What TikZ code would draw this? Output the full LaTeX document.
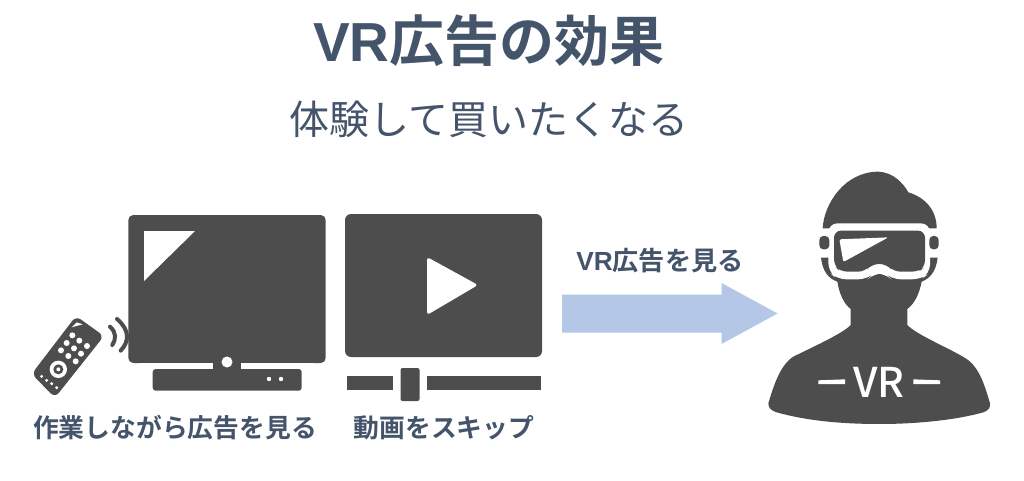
\documentclass[tikz,border=0pt]{standalone}
\usepackage{fontspec}
\setmainfont{Liberation Sans}
\newfontfamily\cjkreg{Noto Sans CJK JP}
\newfontfamily\cjkbold{Noto Sans CJK JP Bold}
\newfontfamily\cjkmed{Noto Sans CJK JP Medium}
\newfontfamily\latbold{Liberation Sans Bold}
\definecolor{inktext}{HTML}{44546A}
\definecolor{icon}{HTML}{4D4D4D}
\definecolor{arrowblue}{HTML}{B4C7E7}
\tikzset{
  txt/.style={inner sep=0pt,outer sep=0pt,text=inktext,anchor=center},
  iconfill/.style={fill=icon,draw=none},
  hole/.style={fill=white,draw=none},
  wave/.style={draw=icon,line width=4pt,line cap=round},
}
\begin{document}
\begin{tikzpicture}[x=1pt,y=-1pt]
\useasboundingbox (0,0) rectangle (1024,481);
\fill[white] (0,0) rectangle (1024,481);
% titles
\node[txt] (title) at (489,41) {\fontsize{55}{56}\selectfont{\latbold VR}{\cjkbold 広告の効果}};
\node[txt] (subtitle) at (489,119) {\fontsize{40}{41}\cjkreg 体験して買いたくなる};
% TV
\path[iconfill,rounded corners=5pt] (128.3,215) rectangle (325.7,363);
\fill[hole] (144,231) -- (195,231) -- (144,281) -- cycle;
\path[iconfill,rounded corners=3pt] (152.7,369) rectangle (301.7,390.7);
\fill[white] (140,363) rectangle (314,369);
\path[iconfill] (213,360) rectangle (241,371);
\path[iconfill] (227,362) circle (9);
\fill[hole] (227,362) circle (5.5);
\fill[hole] (269,379) circle (2.2);
\fill[hole] (281,379) circle (2.2);
% remote
\begin{scope}[shift={(20,310)},scale=1/3]
\path[iconfill,rounded corners=6pt] (168,18) -- (252,78) -- (105,263) -- (35,192) -- cycle;
\fill[hole] (155,52) -- (170,37) -- (188,43) -- cycle;
\foreach \bx/\by in {157/76,140/99,178/92,201/108,123/121,162/115,183/131,145/138,167/154}
  \fill[hole] (\bx,\by) circle (9);
\foreach \bx/\by in {65/199,80/211,95/221,110/233}
  \fill[hole] (\bx,\by) circle (5);
\fill[hole] (115,178) circle (26);
\path[iconfill] (115,178) circle (15);
\fill[hole] (115,178) circle (6);
\draw[wave] (270,50) .. controls (290,68) and (288,88) .. (277,105);
\draw[wave] (291,27) .. controls (330,60) and (328,95) .. (302,122);
\end{scope}
% video player
\path[iconfill,rounded corners=6pt] (345,214) rectangle (542,357);
\fill[hole,rounded corners=3pt] (427,257) -- (478,285) -- (427,315) -- cycle;
\path[iconfill] (347,376) rectangle (393,390);
\path[iconfill] (427,376) rectangle (541,390);
\path[iconfill,rounded corners=2pt] (400.5,368) rectangle (419.5,401);
% arrow
\fill[arrowblue] (562,294.5) -- (721.5,294.5) -- (721.5,283) -- (777.5,313.5) -- (721.5,344) -- (721.5,332.5) -- (562,332.5) -- cycle;
\node[txt] (lblvr) at (660,260.5) {\fontsize{26.2}{26}\selectfont{\latbold VR}{\cjkbold 広告を見る}};
\node[txt] (lbltv) at (175,428) {\fontsize{25.8}{26}\cjkbold 作業しながら広告を見る};
\node[txt] (lblskip) at (444,428) {\fontsize{25.8}{26}\cjkbold 動画をスキップ};
% person
\begin{scope}[shift={(750,160)},scale=1/3]
\path[iconfill] (218,205) .. controls (222,130) and (285,35) .. (385,35)
  .. controls (430,37) and (460,70) .. (475,97)
  .. controls (525,112) and (560,150) .. (560,205) -- cycle;
\path[iconfill] (213,293) .. controls (218,335) and (235,355) .. (262,365)
  .. controls (268,400) and (280,430) .. (302,447) -- (302,495)
  .. controls (280,520) and (180,565) .. (130,590)
  .. controls (90,615) and (70,680) .. (55,730)
  .. controls (55,745) and (65,752) .. (80,757)
  .. controls (180,785) and (290,792) .. (390,792)
  .. controls (490,792) and (610,782) .. (700,757)
  .. controls (715,752) and (722,742) .. (720,730)
  .. controls (705,680) and (690,625) .. (650,597)
  .. controls (600,565) and (500,525) .. (472,495) -- (472,447)
  .. controls (495,430) and (508,400) .. (515,365)
  .. controls (540,355) and (558,335) .. (563,293) -- cycle;
% goggles
\fill[hole,rounded corners=9pt] (235,190) -- (540,190) -- (540,340) -- (512,358) -- (425,358) -- (405,340) -- (372,340) -- (352,358) -- (262,358) -- (235,335) -- cycle;
\path[iconfill,rounded corners=7pt] (252,212) -- (525,212) -- (525,322) -- (505,335) -- (430,335) -- (410,312) -- (365,312) -- (345,335) -- (272,335) -- (252,318) -- cycle;
\fill[hole,rounded corners=2pt] (268,238) -- (415,232) -- (280,306) -- cycle;
\path[iconfill,rounded corners=4pt] (208,228) rectangle (238,268);
\path[iconfill,rounded corners=4pt] (538,228) rectangle (566,268);
\fill[hole] (205,661) -- (285,658) -- (285,672) -- (205,672) -- cycle;
\fill[hole] (490,658) -- (570,661) -- (570,672) -- (490,672) -- cycle;
\end{scope}
\node[txt,text=white] (vr) at (879,382.5) {\fontsize{41}{41}\cjkmed VR};
\end{tikzpicture}
\end{document}
